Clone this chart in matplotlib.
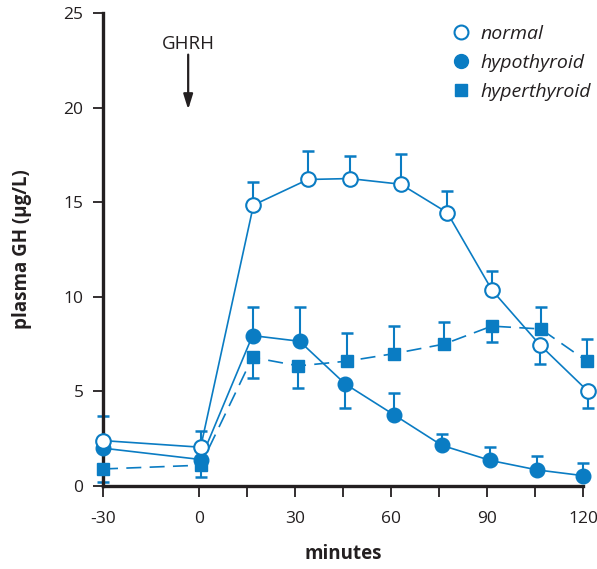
import numpy as np
import matplotlib
matplotlib.use("Agg")
import matplotlib.pyplot as plt
from matplotlib.lines import Line2D

# ---- data ----
normal_x = [-30, 0.5, 17, 34, 47, 63, 77.5, 91.5, 106.5, 121.5]
normal_y = [2.4, 2.05, 14.85, 16.2, 16.25, 15.95, 14.45, 10.35, 7.45, 5.0]
normal_err = [3.7, 2.9, 16.05, 17.7, 17.45, 17.55, 15.6, 11.35, 6.45, 4.1]

hypo_x = [-30, 0.5, 16.7, 31.4, 45.6, 61, 75.8, 91, 105.6, 119.8]
hypo_y = [2.0, 1.4, 7.95, 7.65, 5.4, 3.75, 2.15, 1.35, 0.85, 0.55]
hypo_err = [np.nan, np.nan, 9.45, 9.45, 4.1, 4.9, 2.75, 2.05, 1.6, 1.2]

hyper_x = [-30, 0.5, 16.7, 31, 46.3, 61, 76.5, 91.4, 106.7, 121.1]
hyper_y = [0.9, 1.1, 6.8, 6.35, 6.6, 7.0, 7.5, 8.45, 8.3, 6.6]
hyper_err = [0.22, 0.47, 5.72, 5.16, 8.07, 8.47, 8.65, 7.6, 9.45, 7.77]

xticks = [-30, 0, 30, 60, 90, 120]
xminor = [15, 45, 75, 105]
yticks = [0, 5, 10, 15, 20, 25]
labels = ["normal", "hypothyroid", "hyperthyroid"]

blue = "#0a7cc3"
dark = "#231f20"
plt.rcParams['font.family'] = ['Open Sans', 'DejaVu Sans']

fig = plt.figure(figsize=(5.97, 5.69), dpi=100)
ax = fig.add_axes([103/597, 1 - 486/569, (583.3 - 103)/597, (486 - 13)/569])
ax.set_xlim(-30, 120)
ax.set_ylim(0, 25)

lw = 1.2
ms_c = 10.5
ms_s = 8.5
mew = 1.5

def errbars(xs, ys, ends):
    for x, y, e in zip(xs, ys, ends):
        if np.isnan(e):
            continue
        ax.plot([x, x], [y, e], color=blue, lw=1.5, zorder=2, clip_on=False,
                solid_capstyle='butt')
        ax.plot([x], [e], marker='_', markersize=8, mew=1.8, color=blue,
                zorder=2, clip_on=False)

errbars(normal_x, normal_y, normal_err)
errbars(hypo_x, hypo_y, hypo_err)
errbars(hyper_x, hyper_y, hyper_err)

ax.plot(hyper_x, hyper_y, color=blue, lw=lw, ls=(0, (9, 5)), marker='s',
        markersize=ms_s, markerfacecolor=blue, markeredgecolor=blue, zorder=3, clip_on=False)
ax.plot(hypo_x, hypo_y, color=blue, lw=lw, marker='o', markersize=ms_c,
        markerfacecolor=blue, markeredgecolor=blue, zorder=4, clip_on=False)
ax.plot(normal_x, normal_y, color=blue, lw=lw, marker='o', markersize=ms_c,
        markerfacecolor='white', markeredgecolor=blue, markeredgewidth=mew,
        zorder=5, clip_on=False)

# axes styling
for s in ['top', 'right']:
    ax.spines[s].set_visible(False)
for s in ['left', 'bottom']:
    ax.spines[s].set_linewidth(2.4)
    ax.spines[s].set_color(dark)
ax.set_xticks(xticks)
ax.set_xticks(xminor, minor=True)
ax.set_yticks(yticks)
ax.tick_params(axis='both', which='both', direction='out', color=dark, width=1.3,
               labelsize=12.5, labelcolor=dark)
ax.tick_params(axis='x', which='both', length=8, pad=10)
ax.tick_params(axis='y', length=7, pad=7)
ax.set_xticklabels([str(t) for t in xticks])

ax.set_xlabel("minutes", fontsize=13.5, fontweight='bold', color=dark, labelpad=12)
ax.set_ylabel("plasma GH (µg/L)", fontsize=13.5, fontweight='bold', color=dark, labelpad=23)

# GHRH arrow
ax.annotate("", xy=(-3.4, 19.9), xytext=(-3.4, 22.8),
            arrowprops=dict(arrowstyle='-|>,head_length=0.9,head_width=0.28',
                        color=dark, lw=1.6, shrinkA=0, shrinkB=0))
ax.text(-3.4, 23.35, "GHRH", ha='center', va='center', fontsize=13.5, color=dark)

# legend
handles = [
    Line2D([], [], ls='none', marker='o', markersize=10, markerfacecolor='white',
           markeredgecolor=blue, markeredgewidth=mew),
    Line2D([], [], ls='none', marker='o', markersize=10, markerfacecolor=blue,
           markeredgecolor=blue),
    Line2D([], [], ls='none', marker='s', markersize=8.5, markerfacecolor=blue,
           markeredgecolor=blue),
]
leg = ax.legend(handles, labels, loc='upper left', bbox_to_anchor=(451/597, 1 - 25/569),
                bbox_transform=fig.transFigure, frameon=False, handlelength=1.0,
                handletextpad=0.5, labelspacing=0.56, borderaxespad=0, borderpad=0,
                prop=dict(family=['Open Sans', 'DejaVu Sans'], style='italic', size=14))
for t in leg.get_texts():
    t.set_color(dark)

fig.savefig("out.png", dpi=100)
